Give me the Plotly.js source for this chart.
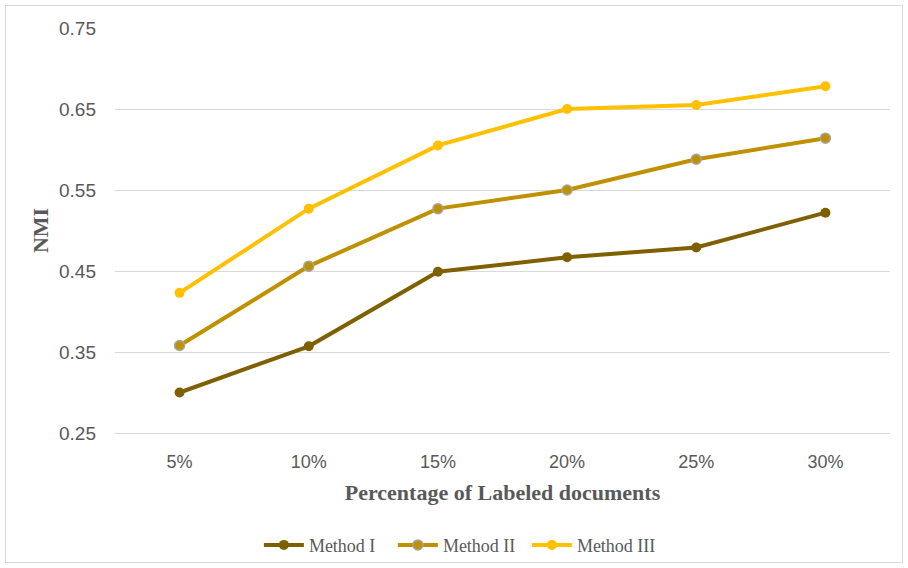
<!DOCTYPE html>
<html>
<head>
<meta charset="utf-8">
<script src="https://cdn.plot.ly/plotly-3.0.1.min.js"></script>
<style>
  html, body { margin: 0; padding: 0; background: #ffffff; }
  #wrap { position: relative; width: 908px; height: 568px; }
  #chart { width: 908px; height: 568px; }
  #frame {
    position: absolute; left: 5px; top: 5px; width: 896px; height: 556px;
    border: 1px solid #d9d9d9; pointer-events: none;
  }
</style>
</head>
<body>
<div id="wrap">
  <div id="chart"></div>
  <div id="frame"></div>
</div>
<script>
// Share of labeled documents used for training
const categories = ["5%", "10%", "15%", "20%", "25%", "30%"];

// NMI scores per method
const methodI   = [0.300, 0.357, 0.449, 0.467, 0.479, 0.522];
const methodII  = [0.358, 0.456, 0.527, 0.550, 0.588, 0.614];
const methodIII = [0.423, 0.527, 0.605, 0.650, 0.655, 0.678];

const seriesNames = ["Method I", "Method II", "Method III"];
const yTicks = [0.25, 0.35, 0.45, 0.55, 0.65, 0.75];
const yTickText = ["0.25", "0.35", "0.45", "0.55", "0.65", "0.75"];

const grey = "#595959";
const tickFont = { family: "Liberation Sans, Arial, sans-serif", size: 18, color: grey };
const yTickFont = { family: "Liberation Sans, Arial, sans-serif", size: 19, color: grey };
const titleFont = { family: "Liberation Serif, Times New Roman, serif", size: 22, color: grey };

function lineTrace(name, ys, color, outline) {
  return {
    type: "scatter",
    mode: "lines+markers",
    name: name,
    x: categories,
    y: ys,
    line: { color: color, width: 4 },
    marker: {
      color: color,
      size: 10,
      line: { color: outline || color, width: outline ? 1.5 : 0 }
    },
    cliponaxis: false
  };
}

const data = [
  lineTrace(seriesNames[0], methodI, "#7f6000"),
  lineTrace(seriesNames[1], methodII, "#bf9000", "#a5a5a5"),
  lineTrace(seriesNames[2], methodIII, "#ffc000")
];

const layout = {
  width: 908,
  height: 568,
  margin: { l: 115, r: 18, t: 28, b: 135, autoexpand: false },
  paper_bgcolor: "#ffffff",
  plot_bgcolor: "#ffffff",
  showlegend: true,
  legend: {
    orientation: "h",
    x: 0.445, xanchor: "center",
    y: -0.277, yanchor: "middle",
    font: { family: "Liberation Serif, Times New Roman, serif", size: 18, color: grey },
    itemwidth: 40,
    entrywidth: 79,
    tracegroupgap: 0
  },
  xaxis: {
    type: "category",
    range: [-0.5, 5.5],
    showgrid: false,
    zeroline: false,
    showline: true,
    linecolor: "#d9d9d9",
    linewidth: 1,
    ticks: "",
    ticklabelstandoff: 12,
    tickfont: tickFont,
    fixedrange: true,
    title: {
      text: "<b>Percentage of Labeled documents</b>",
      font: titleFont,
      standoff: 14
    }
  },
  yaxis: {
    range: [0.25, 0.75],
    tickvals: yTicks,
    ticktext: yTickText,
    showgrid: true,
    gridcolor: "#d9d9d9",
    gridwidth: 1,
    zeroline: false,
    showline: false,
    ticks: "",
    ticklabelstandoff: 18,
    tickfont: yTickFont,
    fixedrange: true,
    title: {
      text: "<b>NMI</b>",
      font: titleFont,
      standoff: 4
    }
  }
};

Plotly.newPlot("chart", data, layout, { displayModeBar: false, staticPlot: true });
</script>
</body>
</html>
